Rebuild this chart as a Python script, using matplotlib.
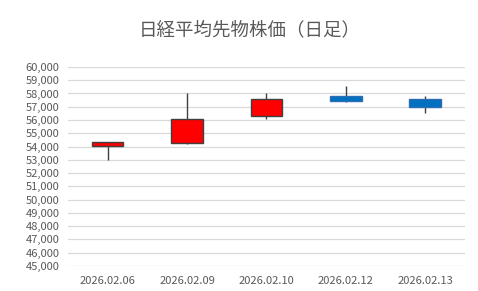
import matplotlib
matplotlib.use("Agg")
import matplotlib.pyplot as plt
from matplotlib.ticker import FuncFormatter

plt.rcParams['font.family'] = ['Noto Sans CJK JP', 'DejaVu Sans']

# 日足データ
dates = ["2026.02.06", "2026.02.09", "2026.02.10", "2026.02.12", "2026.02.13"]
opens = [54050, 54250, 56270, 57780, 57620]
highs = [54380, 58000, 58000, 58550, 57830]
lows = [53000, 54170, 56080, 57350, 56500]
closes = [54380, 56100, 57620, 57420, 56970]

up_color = '#FF0000'
down_color = '#0070C0'
gray_text = '#595959'

fig = plt.figure(figsize=(4.78, 2.91), dpi=100)
ax = fig.add_axes([0.142, 0.086, 0.831, 0.684])

for i in range(len(dates)):
    o, h, l, c = opens[i], highs[i], lows[i], closes[i]
    ax.vlines(i, l, h, color='#404040', linewidth=1.0, zorder=2)
    if c >= o:
        ax.bar(i, c - o, bottom=o, width=0.4, color=up_color,
               edgecolor='#404040', linewidth=1.0, zorder=3)
    else:
        ax.bar(i, o - c, bottom=c, width=0.4, color=down_color,
               edgecolor='#2E6DB4', linewidth=1.0, zorder=3)

ax.set_xlim(-0.5, len(dates) - 0.5)
ax.set_ylim(45000, 60000)
ax.set_yticks(range(45000, 60001, 1000))
ax.yaxis.set_major_formatter(FuncFormatter(lambda v, p: f"{int(v):,}"))
ax.set_xticks(range(len(dates)))
ax.set_xticklabels(dates)

ax.grid(axis='y', color='#D9D9D9', linewidth=0.9, zorder=0)
ax.set_axisbelow(True)
for s in ax.spines.values():
    s.set_visible(False)
ax.tick_params(axis='both', length=0, labelsize=8, colors=gray_text)
ax.tick_params(axis='x', pad=7)
ax.tick_params(axis='y', pad=6)

fig.text(0.523, 0.895, "日経平均先物株価（日足）", ha='center', va='center',
         fontsize=13.3, color=gray_text)

fig.savefig("out.png", dpi=100)
